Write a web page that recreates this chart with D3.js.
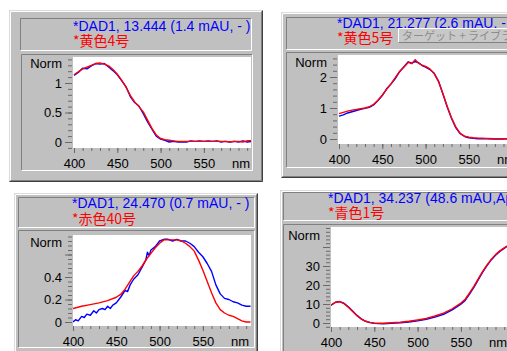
<!DOCTYPE html>
<html>
<head>
<meta charset="utf-8">
<script src="https://cdn.jsdelivr.net/npm/d3@7"></script>
<style>
  html, body { margin: 0; padding: 0; background: #fff; }
  svg { display: block; }
  text { font-family: "Liberation Sans", Arial, sans-serif; }
  .jp { font-family: "Noto Sans CJK JP", sans-serif; }
</style>
</head>
<body>
<svg id="chart"></svg>
<script>
const xTickLabels = [400, 450, 500, 550];

// 黄色4号
const y4Titles = ["*DAD1, 13.444 (1.4 mAU, - )", "*黄色4号"];
const y4Wl = [400,405,410,415,420,425,430,435,440,445,450,455,460,465,470,475,480,485,490,495,500,505,510,515,520,525,530,535,540,545,550,555,560,565,570,575,580,585,590,595,600,605];
const y4Sample = [1.13,1.18,1.25,1.24,1.29,1.33,1.32,1.33,1.27,1.21,1.14,1.04,0.94,0.77,0.67,0.61,0.48,0.34,0.22,0.10,0.05,0.03,0.0,0.01,0.0,0.0,0.0,0.02,0.01,0.02,0.01,0.02,0.01,0.02,0.0,0.01,0.0,0.01,0.0,0.02,0.0,0.01];
const y4Library = [1.14,1.19,1.24,1.27,1.30,1.33,1.34,1.32,1.29,1.23,1.15,1.05,0.93,0.79,0.68,0.60,0.51,0.37,0.23,0.12,0.06,0.04,0.03,0.02,0.01,0.01,0.01,0.01,0.01,0.01,0.01,0.01,0.01,0.01,0.01,0.01,0.0,0.01,0.01,0.0,0.02,0.02];
const y4YTicks = [0, 0.5, 1];
const y4YLabels = [0, 0.5, 1];

// 黄色5号
const y5Titles = ["*DAD1, 21.277 (2.6 mAU, - )", "*黄色5号"];
const y5Wl = [400,405,410,415,420,425,430,435,440,445,450,455,460,465,470,475,480,484,488,492,496,500,505,510,515,520,525,530,535,540,545,550,555,560,570,580,590,600,605];
const y5Sample = [0.74,0.78,0.84,0.88,0.92,0.96,0.99,1.02,1.10,1.24,1.40,1.62,1.77,1.95,2.17,2.33,2.49,2.45,2.50,2.46,2.37,2.32,2.24,2.12,1.86,1.45,1.03,0.66,0.36,0.17,0.08,0.04,0.02,0.01,0.01,0.0,0.0,0.01,0.0];
const y5Library = [0.82,0.86,0.90,0.93,0.95,0.98,1.00,1.04,1.12,1.25,1.42,1.60,1.78,1.98,2.18,2.32,2.47,2.43,2.56,2.44,2.38,2.34,2.26,2.10,1.85,1.47,1.05,0.68,0.38,0.18,0.09,0.06,0.04,0.03,0.02,0.01,0.01,0.01,0.01];
const y5YTicks = [0, 1, 2];
const y5YLabels = [0, 1, 2];

// 赤色40号
const r40Titles = ["*DAD1, 24.470 (0.7 mAU, - )", "*赤色40号"];
const r40SampleWl = [400,403,406,410,413,416,420,424,427,430,434,437,440,443,446,450,455,460,463,466,470,475,480,484,486,488,490,495,500,505,510,515,520,525,530,535,540,545,550,555,560,565,570,575,580,585,590,595,600,605];
const r40Sample = [0.0,0.02,0.01,0.05,0.04,0.07,0.06,0.10,0.08,0.11,0.12,0.11,0.14,0.12,0.15,0.17,0.22,0.28,0.27,0.33,0.38,0.42,0.49,0.55,0.62,0.59,0.64,0.67,0.72,0.735,0.735,0.72,0.735,0.72,0.72,0.70,0.67,0.62,0.58,0.52,0.45,0.33,0.25,0.21,0.20,0.18,0.17,0.15,0.14,0.14];
const r40LibraryWl = [400,410,420,430,440,450,455,460,465,470,475,480,485,490,495,500,505,510,515,520,525,530,535,540,545,550,555,560,565,570,575,580,585,590,595,600,605];
const r40Library = [0.12,0.14,0.155,0.17,0.19,0.22,0.245,0.29,0.35,0.41,0.45,0.50,0.56,0.61,0.66,0.70,0.73,0.73,0.73,0.73,0.72,0.70,0.67,0.63,0.55,0.46,0.36,0.26,0.17,0.11,0.08,0.06,0.05,0.03,0.01,0.0,0.0];
const r40YTicks = [0, 0.2, 0.4, 0.6];
const r40YLabels = [0, 0.2, 0.4];

// 青色1号
const b1Titles = ["*DAD1, 34.237 (48.6 mAU,Apx)", "*青色1号"];
const b1Wl = [400,405,410,415,420,425,430,435,440,445,450,460,470,480,490,500,510,520,530,540,550,555,560,565,570,575,580,585,590,595,600,605];
const b1Sample = [9.3,10.9,11.3,10.4,8.5,6.3,4.0,2.2,0.9,0.2,-0.2,-0.4,-0.2,0.1,0.5,1.1,2.0,3.1,4.6,6.9,9.9,11.9,15.2,18.8,22.7,26.6,30.1,33.2,35.7,37.7,39.3,40.8];
const b1Library = [9.5,10.8,11.2,10.2,8.3,6.0,3.8,2.0,0.9,0.3,0.0,-0.1,0.1,0.4,0.9,1.6,2.4,3.7,5.2,7.5,10.5,12.5,15.8,19.3,23.2,27.0,30.5,33.5,36.0,38.0,39.5,41.0];
const b1YTicks = [0, 10, 20, 30, 40];
const b1YLabels = [0, 10, 20, 30];

const overlayLabel = "ターゲット + ライブラリ";

// ---- drawing ----
var svg = d3.select("#chart")
    .attr("width", 507)
    .attr("height", 351);

svg.append("rect").attr("width", 507).attr("height", 351).attr("fill", "#fff");

// 1px bevel: tl colour on top/left edges, br colour on bottom/right edges
function bevel(g, b, tl, br) {
    var x0 = b.x + 0.5, y0 = b.y + 0.5, x1 = b.x + b.w - 0.5, y1 = b.y + b.h - 0.5;
    g.append("path").attr("d", `M${x0},${y1}V${y0}H${x1}`)
        .attr("fill", "none").attr("stroke", tl);
    g.append("path").attr("d", `M${x0},${y1}H${x1}V${y0}`)
        .attr("fill", "none").attr("stroke", br);
}

function drawPanel(p, idx) {
    var g = svg.append("g");

    // window frame
    g.append("rect")
        .attr("x", p.outer.x).attr("y", p.outer.y)
        .attr("width", p.outer.w).attr("height", p.outer.h)
        .attr("fill", "#c0c0c0");
    bevel(g, p.outer, "#dcdcdc", "#404040");
    bevel(g, { x: p.outer.x + 1, y: p.outer.y + 1, w: p.outer.w - 2, h: p.outer.h - 2 }, "#fff", "#808080");

    // title box
    bevel(g, p.title, "#808080", "#fff");
    g.append("text")
        .attr("x", p.textX).attr("y", p.blueY)
        .attr("font-size", 14).attr("fill", "#0000ff")
        .text(p.titles[0]);
    g.append("text")
        .attr("class", "jp")
        .attr("x", p.textX).attr("y", p.redY)
        .attr("font-size", 14).attr("fill", "#ff0000")
        .text(p.titles[1]);

    if (p.overlay) {
        g.append("rect")
            .attr("x", p.overlay.x).attr("y", p.overlay.y)
            .attr("width", p.overlay.w).attr("height", p.overlay.h)
            .attr("fill", "#c8c8c8");
        bevel(g, p.overlay, "#fff", "#808080");
        g.append("text")
            .attr("class", "jp")
            .attr("x", p.overlay.x + 4).attr("y", p.overlay.y + 12)
            .attr("font-size", 11).attr("fill", "#8c8c8c")
            .text(overlayLabel);
    }

    // plot box
    bevel(g, p.box, "#808080", "#fff");

    var a = p.area;
    g.append("rect")
        .attr("x", a.x).attr("y", a.y)
        .attr("width", a.w).attr("height", a.h)
        .attr("fill", "#fff");

    var x = d3.scaleLinear()
        .domain([400, 605])
        .range([p.x0, p.x0 + 177.5]);

    var y = d3.scaleLinear()
        .domain(p.yDomain)
        .range(p.yRange);

    var bottom = a.y + a.h;

    // x axis: minor and major ticks
    var xMinor = g.append("g")
        .attr("transform", `translate(0,${bottom})`)
        .call(d3.axisBottom(x).tickValues(d3.range(400, 601, 10)).tickSize(3).tickFormat(""));
    xMinor.select(".domain").remove();

    var xMajor = g.append("g")
        .attr("transform", `translate(0,${bottom})`)
        .call(d3.axisBottom(x).tickValues(xTickLabels).tickSize(5).tickPadding(5.5));
    xMajor.select(".domain").remove();
    xMajor.selectAll("text").attr("font-size", 13).attr("fill", "#000")
        .attr("font-family", "Liberation Sans, Arial, sans-serif");

    g.append("text")
        .attr("x", p.x0 + 176).attr("y", bottom + 19.5)
        .attr("text-anchor", "end").attr("font-size", 13)
        .text("nm");

    // y axis
    var yMin = y.invert(bottom), yMax = y.invert(a.y);
    var minor = d3.range(Math.ceil(yMin / p.yMinor) * p.yMinor, yMax, p.yMinor);
    var yMinorAxis = g.append("g")
        .attr("transform", `translate(${a.x - 1},0)`)
        .call(d3.axisLeft(y).tickValues(minor).tickSize(4).tickFormat(""));
    yMinorAxis.select(".domain").remove();

    var yMajorAxis = g.append("g")
        .attr("transform", `translate(${a.x - 1},0)`)
        .call(d3.axisLeft(y).tickValues(p.yTicks).tickSize(7).tickPadding(3)
            .tickFormat(d => p.yLabels.indexOf(d) >= 0 ? String(d) : ""));
    yMajorAxis.select(".domain").remove();
    yMajorAxis.selectAll("text").attr("font-size", 13).attr("fill", "#000")
        .attr("font-family", "Liberation Sans, Arial, sans-serif");

    g.selectAll(".tick line").attr("stroke", "#6a6a6a");

    g.append("text")
        .attr("x", a.x - 11).attr("y", p.normY)
        .attr("text-anchor", "end").attr("font-size", 13)
        .text("Norm");

    // spectra
    var clipId = "clip" + idx;
    g.append("clipPath").attr("id", clipId)
        .append("rect")
        .attr("x", a.x).attr("y", a.y)
        .attr("width", a.w).attr("height", a.h);

    var line = d3.line()
        .x(d => x(d[0]))
        .y(d => y(d[1]));

    p.series.forEach(s => {
        g.append("path")
            .datum(d3.zip(s.wl, s.values))
            .attr("clip-path", `url(#${clipId})`)
            .attr("fill", "none")
            .attr("stroke", s.color)
            .attr("stroke-width", 1.4)
            .attr("stroke-linejoin", "round")
            .attr("d", line);
    });
}

var panels = [
    {
        titles: y4Titles,
        outer: { x: 9, y: 10, w: 254, h: 172 },
        title: { x: 20, y: 18, w: 232, h: 33 },
        box: { x: 21, y: 54, w: 232, h: 117 },
        area: { x: 73, y: 57, w: 178, h: 91 },
        x0: 74, yDomain: [0, 1], yRange: [142, 83],
        yTicks: y4YTicks, yLabels: y4YLabels, yMinor: 0.1,
        textX: 73, blueY: 31, redY: 46, normY: 68,
        series: [
            { wl: y4Wl, values: y4Sample, color: "#0000ff" },
            { wl: y4Wl, values: y4Library, color: "#ff0000" }
        ]
    },
    {
        titles: y5Titles,
        outer: { x: 281, y: 12, w: 240, h: 166 },
        title: { x: 286, y: 17, w: 230, h: 33 },
        box: { x: 286, y: 52, w: 230, h: 116 },
        area: { x: 338, y: 55, w: 190, h: 89 },
        x0: 339, yDomain: [0, 1], yRange: [139, 108],
        yTicks: y5YTicks, yLabels: y5YLabels, yMinor: 0.2,
        textX: 337, blueY: 28, redY: 43, normY: 67,
        overlay: { x: 398, y: 28, w: 115, h: 15 },
        series: [
            { wl: y5Wl, values: y5Sample, color: "#0000ff" },
            { wl: y5Wl, values: y5Library, color: "#ff0000" }
        ]
    },
    {
        titles: r40Titles,
        outer: { x: 14, y: 193, w: 244, h: 170 },
        title: { x: 18, y: 197, w: 237, h: 31 },
        box: { x: 18, y: 230, w: 237, h: 118 },
        area: { x: 73, y: 235, w: 178, h: 91 },
        x0: 73, yDomain: [0, 0.2], yRange: [322, 299.5],
        yTicks: r40YTicks, yLabels: r40YLabels, yMinor: 0.04,
        textX: 72, blueY: 208, redY: 224, normY: 247,
        series: [
            { wl: r40SampleWl, values: r40Sample, color: "#0000ff" },
            { wl: r40LibraryWl, values: r40Library, color: "#ff0000" }
        ]
    },
    {
        titles: b1Titles,
        outer: { x: 280, y: 190, w: 240, h: 170 },
        title: { x: 283, y: 192, w: 235, h: 29 },
        box: { x: 283, y: 224, w: 235, h: 130 },
        area: { x: 331, y: 227, w: 190, h: 100 },
        x0: 331, yDomain: [0, 10], yRange: [323, 304],
        yTicks: b1YTicks, yLabels: b1YLabels, yMinor: 2,
        textX: 328, blueY: 203, redY: 218, normY: 240,
        series: [
            { wl: b1Wl, values: b1Sample, color: "#0000ff" },
            { wl: b1Wl, values: b1Library, color: "#ff0000" }
        ]
    }
];

panels.forEach((p, i) => drawPanel(p, i));
</script>
</body>
</html>
